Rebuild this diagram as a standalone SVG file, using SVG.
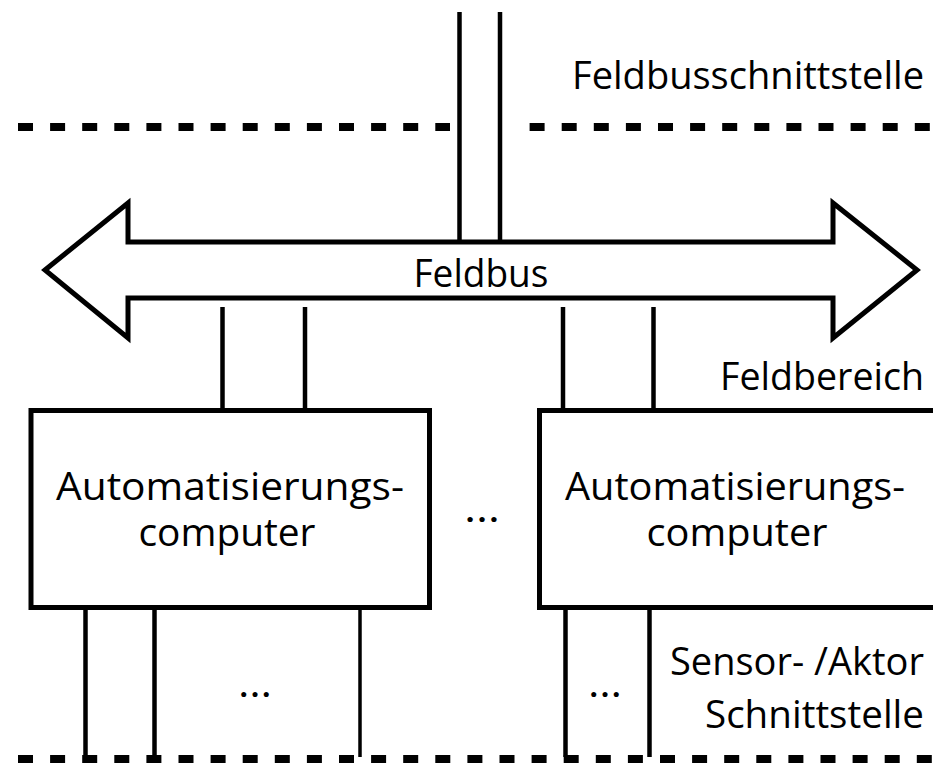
<svg xmlns="http://www.w3.org/2000/svg" width="933" height="764" viewBox="0 0 933 764">
  <style>
    .bg { fill: #ffffff; }
    .ln { stroke: #000; stroke-width: 4.5; fill: none; }
    .dash { stroke: #000; stroke-width: 8; stroke-dasharray: 15 17.1; fill: none; }
    .box { fill: #ffffff; stroke: #000; stroke-width: 5; }
    .bus { fill: #ffffff; stroke: #000; stroke-width: 5; stroke-linejoin: miter; }
    text { font-family: "Open Sans", "Liberation Sans", sans-serif; font-size: 38.5px; fill: #000; }
    .mid { text-anchor: middle; }
    .end { text-anchor: end; }
  </style>
  <rect class="bg" x="0" y="0" width="933" height="764"/>

  <!-- interface boundaries -->
  <g id="boundaries">
    <line class="dash" x1="18" y1="127" x2="450" y2="127"/>
    <line class="dash" x1="529.6" y1="127" x2="940" y2="127"/>
    <line class="dash" x1="18" y1="759" x2="940" y2="759"/>
  </g>

  <g id="connectors">
    <!-- fieldbus uplink -->
    <line class="ln" x1="459.5" y1="12" x2="459.5" y2="242"/>
    <line class="ln" x1="500" y1="12" x2="500" y2="242"/>
    <!-- bus to computers -->
    <line class="ln" x1="222.5" y1="307" x2="222.5" y2="410"/>
    <line class="ln" x1="305" y1="307" x2="305" y2="410"/>
    <line class="ln" x1="563" y1="307" x2="563" y2="410"/>
    <line class="ln" x1="653.5" y1="307" x2="653.5" y2="410"/>
    <!-- computers to sensors/actuators -->
    <line class="ln" x1="85.5" y1="610" x2="85.5" y2="757"/>
    <line class="ln" x1="154.5" y1="610" x2="154.5" y2="757"/>
    <line class="ln" x1="360" y1="610" x2="360" y2="757" style="stroke-width:3.5"/>
    <line class="ln" x1="565.5" y1="610" x2="565.5" y2="757"/>
    <line class="ln" x1="649.5" y1="610" x2="649.5" y2="757"/>
  </g>

  <g id="feldbus">
    <polygon class="bus" points="45,270 128,203 128,242 833,242 833,203 917,270 833,338 833,298 128,298 128,338"/>
    <text class="mid" x="481" y="287" textLength="135" lengthAdjust="spacingAndGlyphs">Feldbus</text>
  </g>

  <g id="computer-1">
    <rect class="box" x="31" y="410.5" width="398.5" height="197"/>
    <text class="mid" x="230" y="500" textLength="348" lengthAdjust="spacingAndGlyphs">Automatisierungs-</text>
    <text class="mid" x="227" y="546" textLength="177" lengthAdjust="spacingAndGlyphs">computer</text>
  </g>

  <g id="computer-2">
    <rect class="box" x="539.5" y="410.5" width="420" height="197"/>
    <text class="mid" x="735" y="500" textLength="340" lengthAdjust="spacingAndGlyphs">Automatisierungs-</text>
    <text class="mid" x="737" y="546" textLength="181" lengthAdjust="spacingAndGlyphs">computer</text>
  </g>

  <g id="ellipses">
    <text class="mid" x="482" y="522" textLength="36" lengthAdjust="spacingAndGlyphs">…</text>
    <text class="mid" x="255" y="697" textLength="34" lengthAdjust="spacingAndGlyphs">…</text>
    <text class="mid" x="605" y="697" textLength="34" lengthAdjust="spacingAndGlyphs">…</text>
  </g>

  <g id="labels">
    <text class="end" x="924" y="89" textLength="352" lengthAdjust="spacingAndGlyphs">Feldbusschnittstelle</text>
    <text class="end" x="924" y="390" textLength="204" lengthAdjust="spacingAndGlyphs">Feldbereich</text>
    <text class="end" x="924" y="675" textLength="254" lengthAdjust="spacingAndGlyphs">Sensor- /Aktor</text>
    <text class="end" x="924" y="728" textLength="219" lengthAdjust="spacingAndGlyphs">Schnittstelle</text>
  </g>
</svg>
